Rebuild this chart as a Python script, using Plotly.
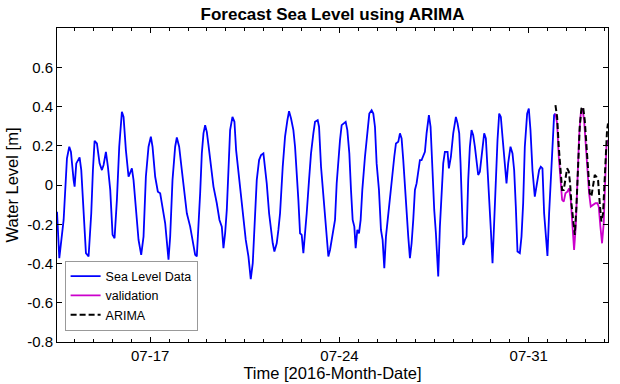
import pandas as pd
import plotly.graph_objects as go

START = "2016-07-13 00:00"

# Observed sea level (hours since START, metres)
obs_hours = [13.3, 15.32, 19.16, 22.11, 24.18, 25.66, 28.02, 28.91, 30.39, 33.34, 34.82, 36.89, 38.96, 41.32,
             43.68, 45.16, 46.64, 48.71, 51.07, 53.14, 54.62, 56.69, 58.46, 60.53, 62.60, 64.37, 66.44, 68.51,
             70.87, 72.35, 74.42, 76.78, 79.74, 81.21, 83.28, 85.65, 88.01, 90.08, 92.15, 94.51, 96.58, 98.06,
             100.42, 102.79, 104.85, 106.33, 109.29, 112.24, 113.72, 115.79, 118.15, 119.63, 121.70, 124.06,
             127.02,
             128.51, 131.46, 132.94, 134.42, 135.90, 137.37, 138.85, 140.33, 141.81, 143.28, 144.76, 146.24,
             147.72, 150.08, 152.15, 155.10, 157.47, 159.54, 161.01, 162.49, 163.97, 165.45, 166.92, 168.99,
             170.76, 172.24, 174.31, 176.67, 178.74, 180.81, 183.18, 185.24, 187.02, 189.09, 190.56, 192.63,
             194.40, 196.47, 197.95, 199.43, 201.50, 203.27, 204.75, 206.22, 208.29, 209.77, 211.25, 213.61,
             215.68, 217.75, 219.23, 221.00, 223.07, 224.55, 226.02, 227.50, 228.98, 230.46, 231.93, 233.41,
             234.89, 236.96, 238.73, 240.80, 242.27,
             244.65, 245.84, 247.61, 249.68, 251.16, 252.63, 254.11, 255.59, 257.66, 260.02, 261.50, 262.98,
             264.45, 265.93, 268.00, 269.48, 270.95, 272.73, 274.20, 275.68, 277.16, 278.34, 279.82, 281.30,
             282.77, 284.25, 286.61, 288.68, 290.46, 292.52, 294.00, 295.48, 296.96, 299.02, 300.80, 302.27,
             303.75, 305.23, 306.71, 307.89, 309.66, 311.14, 312.62, 314.10, 316.17, 317.64, 319.12, 320.60,
             322.08, 323.55, 325.03, 326.51, 327.99, 329.46, 330.94, 332.42, 333.90, 335.37, 336.85, 338.33,
             339.81, 341.28, 343.35, 344.83, 346.31, 348.08, 349.56, 350.74, 351.63, 353.10, 354.58, 356.06,
             357.54,
             359.91, 361.10, 362.87, 364.94, 367.30, 368.78, 370.26, 371.44, 372.92, 373.80, 375.28, 376.76,
             378.24, 379.71, 381.19, 382.67, 384.15, 385.62, 387.10, 388.58, 390.65, 392.42, 393.90, 395.37,
             396.85, 398.33, 399.81, 401.28, 402.76, 404.24, 405.72, 407.19, 408.67, 410.74, 412.22, 413.70,
             415.76, 417.54, 419.02, 420.49, 421.97, 424.04, 425.52, 427.00, 428.47, 430.54, 432.02, 433.49,
             435.27, 437.34, 439.40, 441.18, 442.65, 444.13, 445.61, 447.09, 448.56, 450.04, 451.52, 453.00,
             454.47, 455.66]
obs_level = [-0.136, -0.373, -0.178, 0.136, 0.195, 0.169, 0.025, -0.008, 0.110, 0.141, 0.076, -0.144, -0.347, -0.364,
             -0.144, 0.076, 0.225, 0.212, 0.110, 0.076, 0.102, 0.169, 0.093, -0.025, -0.254, -0.271, -0.076, 0.195,
             0.373, 0.347, 0.178, 0.042, 0.085, 0.025, -0.110, -0.280, -0.356, -0.263, 0.042, 0.195, 0.246, 0.195,
             0.042, -0.034, -0.042, -0.093, -0.195, -0.381, -0.263, 0.025, 0.195, 0.242, 0.195, 0.076,
             -0.076,
             -0.144, -0.212, -0.254, -0.305, -0.356, -0.364, -0.229, -0.042, 0.161, 0.263, 0.305, 0.271,
             0.203, 0.093, -0.008, -0.093, -0.178, -0.212, -0.322, -0.246, -0.127, 0.076, 0.280, 0.347,
             0.322, 0.178, 0.059, -0.076, -0.161, -0.280, -0.364, -0.480, -0.398, -0.178, 0.025, 0.127,
             0.153, 0.161, 0.093, 0.008, -0.144, -0.246, -0.297, -0.339, -0.297, -0.229, -0.144, 0.093,
             0.246, 0.330, 0.376, 0.339, 0.280, 0.195, 0.076, -0.076, -0.246, -0.254, -0.347, -0.263,
             -0.144, 0.025, 0.161, 0.263, 0.322,
             0.330, 0.297, 0.093, -0.059, -0.195, -0.280, -0.364, -0.331, -0.263, -0.178, 0.008, 0.144,
             0.229, 0.305, 0.314, 0.322, 0.280, 0.161, -0.025, -0.178, -0.212, -0.322, -0.229, -0.246,
             -0.178, -0.025, 0.144, 0.263, 0.364, 0.381, 0.364, 0.297, 0.110, -0.025, -0.229, -0.280,
             -0.424, -0.263, -0.178, -0.093, -0.025, 0.059, 0.144, 0.212, 0.220, 0.263, 0.237, 0.127,
             -0.025, -0.161, -0.263, -0.373, -0.297, -0.178, -0.025, 0.008, 0.076, 0.127, 0.127, 0.144,
             0.169, 0.263, 0.356, 0.297, 0.076, -0.127, -0.246, -0.347, -0.466, -0.212, -0.042, 0.110,
             0.169,
             0.169, 0.085, 0.144, 0.263, 0.347, 0.314, 0.263, 0.110, -0.110, -0.305, -0.280, -0.263,
             0.025, 0.195, 0.280, 0.254, 0.195, 0.110, 0.051, 0.068, 0.195, 0.263, 0.237, 0.093,
             -0.042, -0.229, -0.398, -0.178, 0.025, 0.229, 0.364, 0.347, 0.246, 0.076, 0.008, 0.110,
             0.195, 0.161, 0.076, -0.110, -0.339, -0.347, -0.263, -0.093, 0.195, 0.364, 0.390, 0.280,
             0.076, -0.059, 0.025, 0.076, 0.093, 0.085, -0.144, -0.246, -0.361, -0.144, 0.025, 0.195,
             0.356, 0.364]

# Validation segment
val_hours = [455.66, 457.13, 458.61, 460.38, 461.57, 463.04, 464.52, 466.29, 467.77, 469.25, 470.73, 472.20,
             473.68, 475.16, 476.64, 478.11, 479.59, 481.07, 482.55, 484.02, 485.50, 486.98, 489.05, 491.12,
             492.89, 494.07, 495.55, 497.03, 498.50, 499.69, 500.87, 502.3]
val_level = [0.364, 0.314, 0.144, 0.008, -0.076, -0.085, -0.042, -0.034, -0.017, -0.076, -0.195, -0.331,
             -0.212, 0.025, 0.246, 0.364, 0.390, 0.331, 0.195, 0.059, -0.042, -0.110, -0.102, -0.093,
             -0.093, -0.110, -0.212, -0.297, -0.195, 0.025, 0.195, 0.23]

# ARIMA forecast
arima_hours = [455.66, 457.13, 458.61, 460.09, 461.57, 463.04, 464.52, 466.00, 467.48, 468.66, 469.84, 471.32,
               472.80, 474.27, 475.75, 477.23, 478.71, 480.18, 481.66, 483.14, 484.62, 486.09, 487.57, 489.05,
               490.53, 492.00, 493.48, 494.96, 496.44, 497.91, 499.39, 500.57, 501.46, 502.3]
arima_level = [0.407, 0.347, 0.195, 0.059, -0.025, -0.025, 0.025, 0.085, 0.068, 0.008, -0.093, -0.195,
               -0.254, -0.110, 0.110, 0.297, 0.390, 0.398, 0.331, 0.195, 0.042, -0.042, -0.059, -0.008,
               0.051, 0.042, 0.025, -0.093, -0.186, -0.144, 0.025, 0.195, 0.280, 0.314]

y_ticks = [-0.8, -0.6, -0.4, -0.2, 0, 0.2, 0.4, 0.6]
y_tick_text = ["-0.8", "-0.6", "-0.4", "-0.2", "0", "0.2", "0.4", "0.6"]
x_range_hours = [13.28, 502.3]

t0 = pd.Timestamp(START)
def to_time(h):
    return t0 + pd.to_timedelta(pd.Series(h), unit="h")

FONT = "Liberation Sans, Arial, Helvetica, sans-serif"

fig = go.Figure()
fig.add_trace(go.Scatter(x=to_time(obs_hours), y=obs_level, mode="lines", name="Sea Level Data",
                         line=dict(color="#0000ff", width=1.8)))
fig.add_trace(go.Scatter(x=to_time(val_hours), y=val_level, mode="lines", name="validation",
                         line=dict(color="#cc00cc", width=1.8)))
fig.add_trace(go.Scatter(x=to_time(arima_hours), y=arima_level, mode="lines", name="ARIMA",
                         line=dict(color="#000000", width=2, dash="6px,3px")))

xr = to_time(x_range_hours)
fig.update_layout(
    width=620, height=384,
    margin=dict(l=57, r=12, t=28, b=42, autoexpand=False),
    paper_bgcolor="white", plot_bgcolor="white",
    font=dict(family=FONT, color="black", size=15),
    title=dict(text="<b>Forecast Sea Level using ARIMA</b>", x=0.5, xref="paper", xanchor="center",
               y=1 - 14 / 384, yref="container", yanchor="middle", font=dict(size=17, family=FONT)),
    showlegend=True,
    legend=dict(x=0.0138, y=0.0365, xanchor="left", yanchor="bottom", bgcolor="white",
                bordercolor="#999999", borderwidth=1, font=dict(size=12.5, family=FONT),
                tracegroupgap=0),
    xaxis=dict(range=[xr.iloc[0], xr.iloc[1]], type="date", tick0="2016-07-17", dtick=7 * 86400000,
               tickformat="%m-%d", ticks="inside", ticklen=5, tickcolor="black", showline=True,
               linecolor="black", linewidth=1, mirror="ticks", showgrid=False, zeroline=False,
               automargin=False,
               tickfont=dict(size=15), title=dict(text="Time [2016-Month-Date]", font=dict(size=16.5), standoff=2),
               minor=dict(tick0="2016-07-17", dtick=int(0.7 * 86400000), ticks="inside", ticklen=3,
                          tickcolor="black", showgrid=False)),
    yaxis=dict(range=[-0.8, 0.8], tickvals=y_ticks, ticktext=y_tick_text, ticks="inside", ticklen=5,
               tickcolor="black", showline=True, linecolor="black", linewidth=1, mirror="ticks",
               showgrid=False, zeroline=False, automargin=False, tickfont=dict(size=15),
               title=dict(text="Water Level [m]", font=dict(size=16.5), standoff=4)),
)

fig.write_html("out.html", config={"displayModeBar": False},
               post_script="document.body.style.margin='0px';document.body.style.overflow='hidden';")
